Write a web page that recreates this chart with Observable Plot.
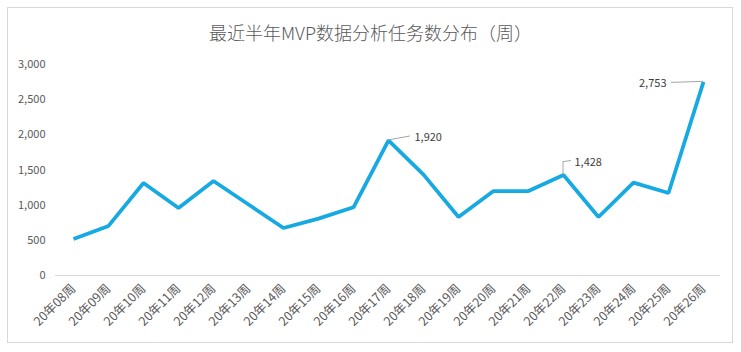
<!DOCTYPE html>
<html>
<head>
<meta charset="utf-8">
<script src="https://cdn.jsdelivr.net/npm/d3@7"></script>
<script src="https://cdn.jsdelivr.net/npm/@observablehq/plot@0.6"></script>
<style>
  html, body { margin: 0; padding: 0; background: #ffffff; }
  #wrap { position: relative; width: 741px; height: 352px; overflow: hidden; background: #fff; }
  #frame { position: absolute; left: 7px; top: 7px; width: 726px; height: 336px; border: 1px solid #d9d9d9; box-sizing: border-box; }
  #title { position: absolute; left: 0; top: 19px; width: 741px; text-align: center;
           font-family: "Noto Sans CJK SC", "Noto Sans", sans-serif; font-size: 18px; font-weight: 300;
           color: #595959; line-height: 26px; }
  #chart { position: absolute; left: 0; top: 0; }
  #chart svg [aria-label^="x-axis"] text { font-size: 12.5px; }
</style>
</head>
<body>
<div id="wrap">
  <div id="frame"></div>
  <div id="title">最近半年MVP数据分析任务数分布（周）</div>
  <div id="chart"></div>
</div>
<script>
const weeks = ["20年08周","20年09周","20年10周","20年11周","20年12周","20年13周","20年14周","20年15周","20年16周","20年17周","20年18周","20年19周","20年20周","20年21周","20年22周","20年23周","20年24周","20年25周","20年26周"];
const counts = [520, 705, 1315, 960, 1343, 1010, 676, 809, 970, 1920, 1435, 832, 1201, 1201, 1428, 832, 1320, 1173, 2753];
const yTicks = [0, 500, 1000, 1500, 2000, 2500, 3000];
const annotWeeks = ["20年17周", "20年22周", "20年26周"];
const annotValues = [1920, 1428, 2753];
const annotLabels = ["1,920", "1,428", "2,753"];

const data = weeks.map((w, i) => ({week: w, count: counts[i]}));
const annots = annotWeeks.map((w, i) => ({week: w, count: annotValues[i], label: annotLabels[i]}));

// leader-line shapes (pixel offsets from the point) and label offsets
const leaderPaths = ["M0,0L22,-4", "M0,0L0,-13L8,-14", "M0,0L-32,1"];
const labelOffsets = [{dx: 26, dy: -3, anchor: "start"}, {dx: 11, dy: -13, anchor: "start"}, {dx: -37, dy: 2, anchor: "end"}];

const leaders = (index, scales) => {
  const g = d3.create("svg:g");
  annots.forEach((a, i) => {
    g.append("path")
      .attr("d", leaderPaths[i])
      .attr("transform", `translate(${scales.x(a.week)},${scales.y(a.count)})`)
      .attr("fill", "none")
      .attr("stroke", "#a6a6a6")
      .attr("stroke-width", 1);
  });
  return g.node();
};

const chart = Plot.plot({
  width: 741,
  height: 352,
  marginTop: 64,
  marginBottom: 77,
  marginLeft: 55,
  marginRight: 21,
  style: {
    fontFamily: "'Noto Sans CJK SC', 'Noto Sans', sans-serif",
    fontSize: "11px",
    color: "#595959",
    background: "transparent",
    overflow: "visible"
  },
  x: {
    type: "point",
    domain: weeks,
    padding: 0.5,
    tickSize: 0,
    tickPadding: 11,
    tickRotate: -45,
    label: null
  },
  y: {
    domain: [0, 3000],
    ticks: yTicks,
    tickFormat: d3.format(","),
    tickSize: 0,
    tickPadding: 10,
    label: null
  },
  marks: [
    Plot.ruleY([0], {stroke: "#d9d9d9", strokeWidth: 1}),
    Plot.line(data, {x: "week", y: "count", stroke: "#17a9e1", strokeWidth: 3.75, strokeLinejoin: "miter", strokeLinecap: "butt"}),
    leaders,
    ...annots.map((a, i) => Plot.text([a], {
      x: "week", y: "count", text: "label",
      dx: labelOffsets[i].dx, dy: labelOffsets[i].dy,
      textAnchor: labelOffsets[i].anchor,
      fill: "#404040", fontSize: 11
    }))
  ]
});
document.getElementById("chart").appendChild(chart);
</script>
</body>
</html>
